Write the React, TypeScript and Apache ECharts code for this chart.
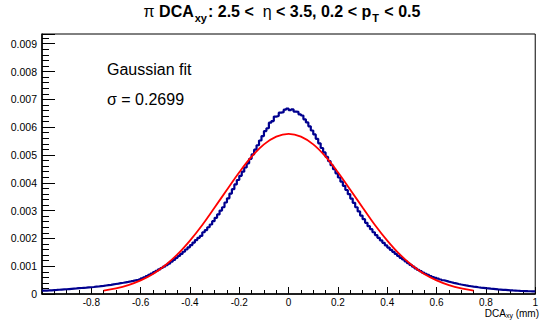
import React, { useEffect, useRef } from "react";
import * as echarts from "echarts";

// Histogram: pi DCA_xy, 200 bins of width 0.01 from -1 to 1.
// Values, in units of 1e-3.
const BIN_START = -1;
const BIN_WIDTH = 0.01;
const COUNT_UNIT = 1e-3;
const histLeft: number[] = [
  0.118, 0.122, 0.127, 0.132, 0.14, 0.146, 0.153, 0.16, 0.165, 0.17,
  0.178, 0.186, 0.193, 0.2, 0.208, 0.215, 0.222, 0.228, 0.236, 0.243,
  0.252, 0.262, 0.27, 0.282, 0.292, 0.305, 0.318, 0.33, 0.345, 0.36,
  0.375, 0.392, 0.405, 0.42, 0.435, 0.452, 0.47, 0.49, 0.51, 0.535,
  0.565, 0.6, 0.64, 0.685, 0.735, 0.785, 0.835, 0.885, 0.935, 0.985,
  1.04, 1.095, 1.16, 1.225, 1.3, 1.37, 1.44, 1.52, 1.6, 1.68,
  1.76, 1.85, 1.94, 2.02, 2.09, 2.22, 2.3, 2.4, 2.5, 2.62,
  2.74, 2.86, 3.0, 3.12, 3.29, 3.44, 3.61, 3.77, 3.94, 4.1,
  4.25, 4.4, 4.55, 4.7, 4.86, 5.02, 5.19, 5.35, 5.52, 5.68,
  5.86, 5.96, 6.16, 6.22, 6.38, 6.4, 6.52, 6.54, 6.63, 6.67,
];
const histRight: number[] = [
  6.61, 6.64, 6.56, 6.55, 6.46, 6.42, 6.28, 6.17, 6.03, 5.88,
  5.74, 5.58, 5.42, 5.25, 5.09, 4.93, 4.78, 4.63, 4.49, 4.34,
  4.19, 4.04, 3.89, 3.74, 3.59, 3.43, 3.28, 3.12, 2.97, 2.82,
  2.69, 2.56, 2.44, 2.33, 2.22, 2.12, 2.02, 1.93, 1.84, 1.75,
  1.67, 1.59, 1.515, 1.44, 1.37, 1.3, 1.24, 1.175, 1.11, 1.045,
  0.985, 0.925, 0.87, 0.82, 0.77, 0.725, 0.685, 0.645, 0.61, 0.58,
  0.55, 0.522, 0.495, 0.47, 0.446, 0.423, 0.4, 0.38, 0.36, 0.342,
  0.325, 0.308, 0.293, 0.28, 0.267, 0.255, 0.243, 0.232, 0.222, 0.212,
  0.203, 0.194, 0.186, 0.178, 0.165, 0.158, 0.151, 0.145, 0.139, 0.133,
  0.127, 0.122, 0.117, 0.112, 0.108, 0.104, 0.101, 0.099, 0.097, 0.095,
];

// Gaussian fit curve, read at 0.05 steps (units of 1e-3)
const fitX: number[] = [
  -0.75, -0.7, -0.65, -0.6, -0.55, -0.5, -0.45, -0.4, -0.35, -0.3, -0.25, -0.2, -0.15, -0.1, -0.05, 0,
  0.05, 0.1, 0.15, 0.2, 0.25, 0.3, 0.35, 0.4, 0.45, 0.5, 0.55, 0.6, 0.65, 0.7, 0.75,
];
const fitY: number[] = [
  0.12, 0.2, 0.32, 0.49, 0.72, 1.035, 1.43, 1.92, 2.48, 3.11, 3.75,
  4.38, 4.94, 5.38, 5.66, 5.76,
  5.66, 5.38, 4.94, 4.38, 3.75, 3.11, 2.48, 1.92, 1.43, 1.035, 0.72,
  0.49, 0.32, 0.2, 0.12,
];

const X_MIN = -1;
const X_MAX = 1;
const X_STEP = 0.2;
const Y_MIN = 0;
const Y_MAX = 0.00935;
const Y_STEP = 0.001;

const FONT = '"Liberation Sans", Arial, Helvetica, sans-serif';

export default function App() {
  const ref = useRef<HTMLDivElement>(null);

  useEffect(() => {
    document.body.style.margin = "0";
    if (!ref.current) return;
    const chart = echarts.init(ref.current, undefined, { renderer: "svg" });

    const counts = histLeft.concat(histRight);
    const histData: number[][] = counts.map((v, i) => [BIN_START + i * BIN_WIDTH, v * COUNT_UNIT]);
    histData.push([BIN_START + counts.length * BIN_WIDTH, counts[counts.length - 1] * COUNT_UNIT]);
    const fitData = fitX.map((x, i) => [x, fitY[i] * COUNT_UNIT]);

    const option: any = {
      animation: false,
      backgroundColor: "#ffffff",
      textStyle: { fontFamily: FONT },
      grid: {
        left: 42,
        right: 1,
        top: 34,
        bottom: 26,
        show: true,
        borderColor: "#000",
        borderWidth: 1,
        backgroundColor: "transparent",
      },
      xAxis: {
        type: "value",
        min: X_MIN,
        max: X_MAX,
        interval: X_STEP,
        splitLine: { show: false },
        axisLine: { show: true, onZero: false, lineStyle: { color: "#000", width: 1.5 } },
        axisTick: { show: true, inside: true, length: 7, lineStyle: { color: "#000", width: 1 } },
        minorTick: { show: true, splitNumber: 4, length: 4, lineStyle: { color: "#000", width: 1 } },
        axisLabel: {
          color: "#000",
          fontSize: 10,
          lineHeight: 10,
          fontFamily: FONT,
          margin: 3,
          formatter: (v: number) => (Math.abs(v - X_MIN) < 1e-9 ? "" : String(Math.round(v * 10) / 10)),
        },
      },
      yAxis: {
        type: "value",
        min: Y_MIN,
        max: Y_MAX,
        interval: Y_STEP,
        splitLine: { show: false },
        axisLine: { show: true, onZero: false, lineStyle: { color: "#000", width: 1.5 } },
        axisTick: { show: true, inside: true, length: 13, lineStyle: { color: "#000", width: 1 } },
        minorTick: { show: true, splitNumber: 5, length: 7, lineStyle: { color: "#000", width: 1 } },
        axisLabel: {
          color: "#000",
          fontSize: 10.5,
          fontFamily: FONT,
          margin: 5,
          showMaxLabel: false,
          formatter: (v: number) => {
            const k = v / Y_STEP;
            if (Math.abs(k - Math.round(k)) > 1e-6) return "";
            if (Math.round(k) === 0) return "0";
            return (Math.round(k) * Y_STEP).toFixed(3);
          },
        },
      },
      series: [
        {
          type: "line",
          name: "DCAxy",
          step: "end",
          data: histData,
          symbol: "none",
          lineStyle: { color: "#00008f", width: 2.2 },
          z: 2,
        },
        {
          type: "line",
          name: "Gaussian fit",
          smooth: 0.4,
          data: fitData,
          symbol: "none",
          lineStyle: { color: "#ff0000", width: 1.8 },
          z: 3,
        },
      ],
      graphic: [
        {
          type: "text",
          x: 282,
          y: 3,
          style: {
            text: "{g|π }{b|DCA}{s|xy}{b|: 2.5 <  }{g|η}{b| < 3.5, 0.2 < p}{s|T}{b| < 0.5}",
            align: "center",
            verticalAlign: "top",
            fill: "#000",
            rich: {
              b: { fontFamily: FONT, fontSize: 16, fontWeight: "bold", lineHeight: 19, verticalAlign: "top", fill: "#000" },
              g: { fontFamily: FONT, fontSize: 16, lineHeight: 19, verticalAlign: "top", fill: "#000" },
              s: { fontFamily: FONT, fontSize: 11, fontWeight: "bold", lineHeight: 13, padding: [10, 1, 0, 1], fill: "#000" },
            },
          },
        },
        {
          type: "text",
          x: 107,
          y: 69,
          style: {
            text: "Gaussian fit",
            fontFamily: FONT,
            fontSize: 16,
            fill: "#000",
            align: "left",
            verticalAlign: "middle",
          },
        },
        {
          type: "text",
          x: 107,
          y: 99,
          style: {
            text: "σ = 0.2699",
            fontFamily: FONT,
            fontSize: 16,
            fill: "#000",
            align: "left",
            verticalAlign: "middle",
          },
        },
        {
          type: "text",
          x: 539,
          y: 313,
          style: {
            text: "DCA{s|xy} (mm)",
            fontFamily: FONT,
            fontSize: 10,
            lineHeight: 10,
            fill: "#000",
            align: "right",
            verticalAlign: "middle",
            rich: {
              s: { fontFamily: FONT, fontSize: 7, lineHeight: 7, padding: [5, 0, 0, 0], fill: "#000" },
            },
          },
        },
      ],
    };

    chart.setOption(option);
    return () => chart.dispose();
  }, []);

  return <div ref={ref} style={{ width: 541, height: 320 }} />;
}
